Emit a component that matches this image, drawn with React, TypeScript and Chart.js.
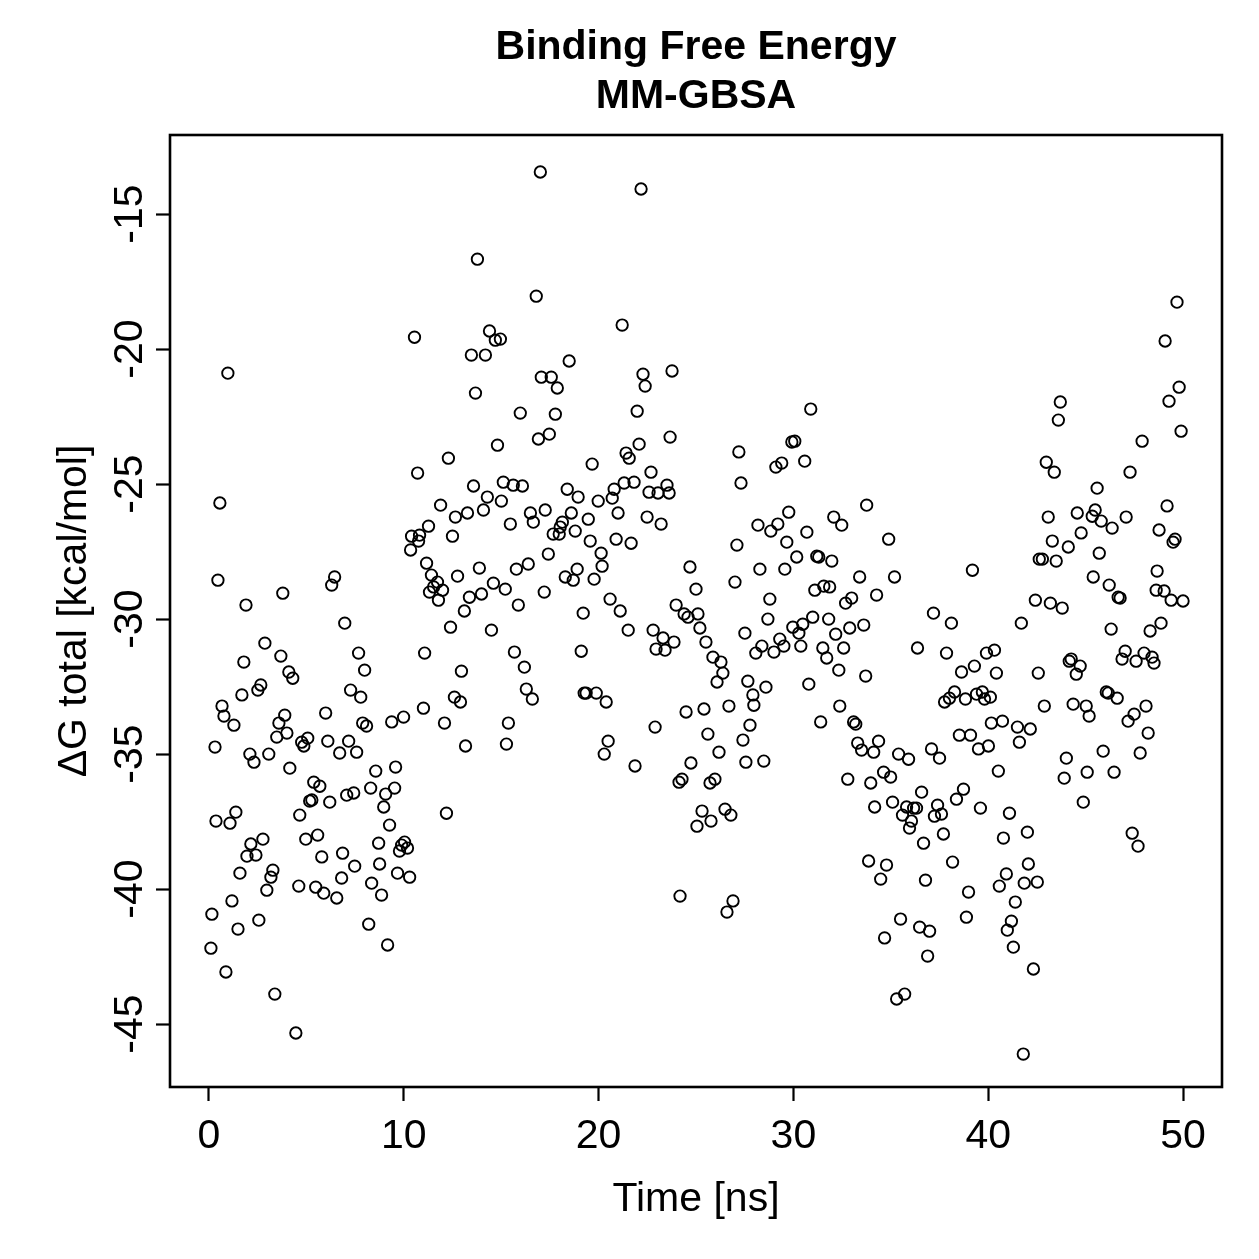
import React, { useEffect, useRef } from "react";
import { Chart, registerables } from "chart.js";

Chart.register(...registerables);

// Simulation time of each frame (ns)
const timeNs: number[] = [
  0.10, 0.15, 0.31, 0.36, 0.46, 0.56, 0.67, 0.77, 0.87, 0.97, 1.08, 1.18, 1.28, 1.38, 1.49, 1.59, 1.69, 1.79, 1.90, 1.95,
  2.10, 2.15, 2.31, 2.41, 2.51, 2.56, 2.66, 2.77, 2.87, 2.97, 3.07, 3.18, 3.28, 3.38, 3.48, 3.59, 3.69, 3.79, 3.89, 4.00,
  4.10, 4.15, 4.30, 4.46, 4.61, 4.66, 4.76, 4.87, 4.97, 5.07, 5.17, 5.28, 5.38, 5.48, 5.58, 5.69, 5.79, 5.89, 5.99, 6.10,
  6.20, 6.30, 6.45, 6.56, 6.71, 6.81, 6.86, 6.97, 7.07, 7.17, 7.27, 7.43, 7.48, 7.58, 7.68, 7.79, 7.89, 7.99, 8.09, 8.20,
  8.30, 8.35, 8.56, 8.71, 8.76, 8.86, 8.97, 9.07, 9.17, 9.27, 9.38, 9.53, 9.58, 9.68, 9.78, 9.89, 9.99, 10.04, 10.19, 10.30,
  10.35, 10.40, 10.55, 10.71, 10.76, 10.81, 11.01, 11.07, 11.17, 11.27, 11.32, 11.42, 11.53, 11.73, 11.78, 11.89, 11.99, 12.09, 12.19, 12.29,
  12.40, 12.50, 12.60, 12.65, 12.76, 12.91, 12.96, 13.11, 13.17, 13.27, 13.37, 13.47, 13.58, 13.68, 13.78, 13.88, 13.99, 14.09, 14.19, 14.29,
  14.40, 14.50, 14.60, 14.70, 14.81, 14.96, 15.01, 15.11, 15.21, 15.27, 15.37, 15.47, 15.62, 15.68, 15.78, 15.88, 15.98, 16.09, 16.19, 16.29,
  16.39, 16.50, 16.60, 16.65, 16.80, 16.91, 17.01, 17.06, 17.21, 17.26, 17.42, 17.47, 17.57, 17.67, 17.78, 17.88, 17.98, 18.03, 18.14, 18.29,
  18.39, 18.49, 18.60, 18.70, 18.80, 18.90, 18.95, 19.11, 19.21, 19.26, 19.36, 19.47, 19.57, 19.67, 19.77, 19.88, 19.98, 20.13, 20.18, 20.29,
  20.39, 20.49, 20.59, 20.70, 20.80, 20.90, 21.00, 21.11, 21.21, 21.31, 21.41, 21.52, 21.57, 21.67, 21.82, 21.87, 21.98, 22.08, 22.18, 22.28,
  22.39, 22.49, 22.59, 22.69, 22.80, 22.90, 22.95, 23.05, 23.21, 23.31, 23.41, 23.51, 23.62, 23.67, 23.77, 23.87, 23.98, 24.13, 24.18, 24.28,
  24.39, 24.49, 24.59, 24.69, 24.74, 25.00, 25.05, 25.10, 25.20, 25.31, 25.41, 25.51, 25.61, 25.72, 25.77, 25.87, 25.97, 26.08, 26.18, 26.28,
  26.38, 26.49, 26.59, 26.69, 26.79, 26.90, 27.00, 27.10, 27.20, 27.31, 27.41, 27.51, 27.56, 27.66, 27.77, 27.92, 27.97, 28.07, 28.18, 28.28,
  28.38, 28.48, 28.59, 28.69, 28.79, 28.84, 29.00, 29.10, 29.20, 29.30, 29.40, 29.51, 29.56, 29.66, 29.76, 29.92, 29.97, 30.07, 30.17, 30.28,
  30.38, 30.48, 30.58, 30.69, 30.79, 30.89, 30.99, 31.10, 31.20, 31.30, 31.40, 31.51, 31.56, 31.71, 31.81, 31.86, 31.97, 32.07, 32.17, 32.33,
  32.38, 32.48, 32.58, 32.68, 32.79, 32.89, 32.99, 33.09, 33.20, 33.30, 33.40, 33.50, 33.61, 33.71, 33.76, 33.86, 33.97, 34.12, 34.17, 34.27,
  34.37, 34.48, 34.63, 34.68, 34.78, 34.89, 34.99, 35.09, 35.19, 35.30, 35.40, 35.50, 35.60, 35.71, 35.81, 35.91, 35.96, 36.06, 36.17, 36.32,
  36.37, 36.48, 36.58, 36.68, 36.78, 36.89, 36.99, 37.09, 37.19, 37.24, 37.40, 37.50, 37.60, 37.70, 37.76, 37.86, 38.01, 38.11, 38.17, 38.27,
  38.37, 38.52, 38.63, 38.73, 38.83, 38.88, 38.99, 39.09, 39.19, 39.29, 39.40, 39.50, 39.60, 39.70, 39.81, 39.91, 40.01, 40.11, 40.16, 40.32,
  40.42, 40.52, 40.57, 40.73, 40.78, 40.93, 40.98, 41.09, 41.19, 41.29, 41.39, 41.50, 41.60, 41.70, 41.80, 41.85, 42.01, 42.06, 42.16, 42.32,
  42.42, 42.52, 42.57, 42.62, 42.78, 42.88, 42.98, 43.08, 43.19, 43.29, 43.39, 43.49, 43.60, 43.70, 43.80, 43.90, 44.01, 44.11, 44.16, 44.26,
  44.36, 44.52, 44.57, 44.72, 44.77, 44.88, 45.03, 45.08, 45.18, 45.34, 45.39, 45.49, 45.59, 45.70, 45.80, 45.90, 46.06, 46.16, 46.21, 46.31,
  46.36, 46.46, 46.62, 46.67, 46.77, 46.87, 47.03, 47.08, 47.18, 47.28, 47.39, 47.49, 47.59, 47.69, 47.80, 47.90, 48.00, 48.10, 48.21, 48.31,
  48.41, 48.51, 48.62, 48.67, 48.77, 48.87, 49.03, 49.08, 49.18, 49.28, 49.39, 49.49, 49.59, 49.69, 49.80, 49.90, 50.00,
];

// Total binding free energy per frame (kcal/mol)
const deltaGTotal: number[] = [
  -42.19, -40.93, -34.74, -37.48, -28.56, -25.70, -33.22, -33.59, -43.07, -20.89, -37.56, -40.44, -33.93, -37.15, -41.48, -39.41, -32.81, -31.59, -29.48, -38.78,
  -35.00, -38.33, -35.30, -38.74, -32.63, -41.15, -32.44, -38.15, -30.89, -40.04, -35.00, -39.56, -39.30, -43.89, -34.37, -33.85, -31.37, -29.04, -33.56, -34.22,
  -31.96, -35.52, -32.19, -45.33, -39.89, -37.26, -34.56, -34.70, -38.15, -34.41, -36.74, -36.70, -36.04, -39.93, -38.00, -36.19, -38.81, -40.15, -33.48, -34.52,
  -36.78, -28.74, -28.44, -40.33, -34.96, -39.59, -38.67, -30.15, -36.52, -34.52, -32.63, -36.44, -39.15, -34.93, -31.26, -32.89, -33.85, -31.89, -33.96, -41.30,
  -36.26, -39.78, -35.63, -38.30, -39.07, -40.22, -36.96, -36.48, -42.07, -37.63, -33.81, -36.26, -35.48, -39.41, -38.59, -38.37, -33.63, -38.26, -38.48, -39.56,
  -27.44, -26.93, -19.56, -24.59, -27.11, -26.89, -33.30, -31.26, -27.93, -26.56, -29.00, -28.37, -28.81, -28.63, -29.30, -25.78, -28.93, -33.85, -37.19, -24.04,
  -30.30, -26.93, -32.89, -26.22, -28.41, -33.07, -31.93, -29.70, -34.70, -26.07, -29.19, -20.22, -25.07, -21.63, -16.67, -28.11, -29.07, -25.96, -20.22, -25.48,
  -19.33, -30.41, -28.67, -19.67, -23.56, -19.63, -25.63, -24.93, -28.89, -34.63, -33.85, -26.48, -25.04, -31.22, -28.15, -29.48, -22.37, -25.07, -31.78, -32.59,
  -27.96, -26.07, -32.96, -26.41, -18.04, -23.33, -13.44, -21.04, -29.00, -25.96, -27.59, -23.15, -21.04, -26.85, -22.41, -21.44, -26.85, -26.59, -26.41, -28.44,
  -25.19, -20.44, -26.07, -28.56, -26.74, -28.15, -25.48, -31.19, -29.78, -32.74, -32.74, -26.30, -27.11, -24.26, -28.52, -32.74, -25.63, -27.56, -28.04, -35.00,
  -33.07, -34.52, -29.26, -25.52, -25.19, -27.04, -26.07, -29.70, -19.11, -24.96, -23.85, -30.41, -24.04, -27.19, -24.93, -35.44, -22.30, -23.52, -14.07, -20.93,
  -21.37, -26.22, -25.30, -24.56, -30.41, -34.00, -31.11, -25.33, -26.48, -30.70, -31.15, -25.04, -25.33, -23.26, -20.81, -30.85, -29.48, -36.04, -40.26, -35.93,
  -29.81, -33.44, -29.93, -28.07, -35.33, -28.89, -37.67, -29.81, -30.33, -37.11, -33.33, -30.85, -34.26, -36.07, -37.48, -31.41, -35.93, -32.33, -34.93, -31.59,
  -32.00, -37.04, -40.85, -33.22, -37.26, -40.44, -28.63, -27.26, -23.81, -24.96, -34.48, -30.52, -35.30, -32.30, -33.93, -32.81, -33.19, -31.26, -26.52, -28.15,
  -31.00, -35.26, -32.52, -30.00, -29.26, -26.74, -31.22, -24.37, -26.48, -30.74, -24.22, -31.00, -28.15, -27.15, -26.04, -23.44, -30.30, -23.41, -27.70, -30.52,
  -31.00, -30.19, -24.15, -26.78, -32.41, -22.22, -29.93, -28.93, -27.67, -27.70, -33.81, -31.07, -28.78, -31.44, -30.00, -28.81, -27.85, -26.22, -30.56, -31.89,
  -33.22, -26.52, -31.07, -29.41, -35.93, -30.33, -29.22, -33.81, -33.89, -34.59, -28.44, -34.85, -30.22, -32.11, -25.78, -38.96, -36.07, -34.93, -36.96, -29.11,
  -34.52, -39.63, -35.67, -41.81, -39.11, -27.04, -35.85, -36.78, -28.44, -44.07, -35.00, -41.11, -37.26, -43.89, -36.96, -35.19, -37.74, -37.48, -37.00, -37.00,
  -31.07, -41.41, -36.41, -38.30, -39.67, -42.48, -41.56, -34.81, -29.78, -37.30, -36.89, -35.15, -37.22, -37.96, -33.07, -31.26, -32.93, -30.15, -39.00, -32.70,
  -36.67, -34.30, -31.96, -36.30, -32.96, -41.04, -40.11, -34.30, -28.19, -31.74, -32.78, -34.81, -37.00, -32.70, -32.96, -31.26, -34.70, -32.89, -33.85, -31.15,
  -32.00, -35.63, -39.89, -33.78, -38.11, -39.44, -41.52, -37.19, -41.19, -42.15, -40.48, -34.00, -34.56, -30.15, -46.11, -39.78, -37.89, -39.07, -34.07, -42.96,
  -29.30, -39.74, -32.00, -27.78, -27.78, -33.22, -24.19, -26.22, -29.41, -27.11, -24.56, -27.85, -22.63, -21.96, -29.59, -35.89, -35.15, -27.33, -31.56, -31.48,
  -33.15, -32.04, -26.07, -31.74, -26.81, -36.78, -33.22, -35.67, -33.59, -26.19, -28.44, -25.96, -25.15, -27.56, -26.37, -34.89, -32.70, -32.74, -28.74, -30.37,
  -26.63, -35.67, -32.93, -29.19, -29.22, -31.48, -31.19, -26.22, -33.78, -24.56, -37.93, -33.52, -31.56, -38.41, -34.96, -23.41, -31.26, -33.22, -34.22, -30.44,
  -31.41, -31.63, -28.93, -28.22, -26.70, -30.15, -28.96, -19.70, -25.81, -21.93, -29.30, -27.15, -27.04, -18.26, -21.41, -23.04, -29.33,
];

const xTickValues: number[] = [0, 10, 20, 30, 40, 50];
const yTickValues: number[] = [-45, -40, -35, -30, -25, -20, -15];

const titleLines: string[] = ["Binding Free Energy", "MM-GBSA"];
const xAxisTitle = "Time [ns]";
const yAxisTitle = "\u0394G total [kcal/mol]";

const FONT = "'Liberation Sans', Arial, Helvetica, sans-serif";
const TEXT_SIZE = 41;

// Closed frame around the plotting region
const framePlugin = {
  id: "plotFrame",
  afterDraw(chart: any) {
    const { ctx, chartArea } = chart;
    ctx.save();
    ctx.strokeStyle = "#000";
    ctx.lineWidth = 2.6;
    ctx.strokeRect(chartArea.left, chartArea.top, chartArea.right - chartArea.left, chartArea.bottom - chartArea.top);
    ctx.restore();
  },
};

export default function App() {
  const canvasRef = useRef<HTMLCanvasElement | null>(null);

  useEffect(() => {
    const canvas = canvasRef.current;
    if (!canvas) return;
    const points = timeNs.map((t, i) => ({ x: t, y: deltaGTotal[i] }));

    const chart = new Chart(canvas, {
      type: "scatter",
      data: {
        datasets: [
          {
            data: points,
            pointStyle: "circle",
            pointRadius: 5.7,
            pointBorderWidth: 1.9,
            borderColor: "#000",
            backgroundColor: "rgba(0,0,0,0)",
            pointHoverRadius: 5.7,
          },
        ],
      },
      options: {
        responsive: false,
        animation: false,
        events: [],
        layout: { padding: { left: 0, right: 37, top: 0, bottom: 0 } },
        plugins: {
          legend: { display: false },
          tooltip: { enabled: false },
          title: {
            display: true,
            fullSize: false,
            text: titleLines,
            color: "#000",
            font: { family: FONT, size: TEXT_SIZE, weight: "bold", lineHeight: 1.2 },
            padding: { top: 23, bottom: 13.6 },
          },
        },
        scales: {
          x: {
            type: "linear",
            position: "bottom",
            min: -2,
            max: 52,
            afterBuildTicks: (scale: any) => {
              scale.ticks = xTickValues.map((v) => ({ value: v }));
            },
            afterFit: (scale: any) => {
              scale.height = 172;
            },
            ticks: {
              color: "#000",
              font: { family: FONT, size: TEXT_SIZE, lineHeight: 1.2 },
              padding: 11.4,
              maxRotation: 0,
              minRotation: 0,
              autoSkip: false,
              callback: (v: any) => String(v),
            },
            grid: {
              drawOnChartArea: false,
              drawTicks: true,
              tickLength: 14,
              tickColor: "#000",
              tickWidth: 2.2,
              color: "#000",
            },
            border: { display: false },
            title: {
              display: true,
              text: xAxisTitle,
              color: "#000",
              font: { family: FONT, size: TEXT_SIZE, lineHeight: 1.2 },
              padding: { top: 0, bottom: 34.4 },
            },
          },
          y: {
            type: "linear",
            position: "left",
            min: -47.33,
            max: -12.07,
            afterBuildTicks: (scale: any) => {
              scale.ticks = yTickValues.map((v) => ({ value: v }));
            },
            afterFit: (scale: any) => {
              scale.width = 170;
            },
            ticks: {
              color: "#000",
              font: { family: FONT, size: TEXT_SIZE, lineHeight: 1.2 },
              padding: -4.6,
              minRotation: 90,
              maxRotation: 90,
              crossAlign: "center",
              autoSkip: false,
              callback: (v: any) => String(v),
            },
            grid: {
              drawOnChartArea: false,
              drawTicks: true,
              tickLength: 14,
              tickColor: "#000",
              tickWidth: 2.2,
              color: "#000",
            },
            border: { display: false },
            title: {
              display: true,
              text: yAxisTitle,
              color: "#000",
              font: { family: FONT, size: TEXT_SIZE, lineHeight: 1.2 },
              padding: { top: 50.4, bottom: 0 },
            },
          },
        },
      },
      plugins: [framePlugin],
    } as any);

    return () => chart.destroy();
  }, []);

  return (
    <div style={{ position: "absolute", left: 0, top: 0, width: 1259, height: 1259, background: "#fff" }}>
      <canvas ref={canvasRef} width={1259} height={1259} style={{ display: "block", width: 1259, height: 1259 }} />
    </div>
  );
}
